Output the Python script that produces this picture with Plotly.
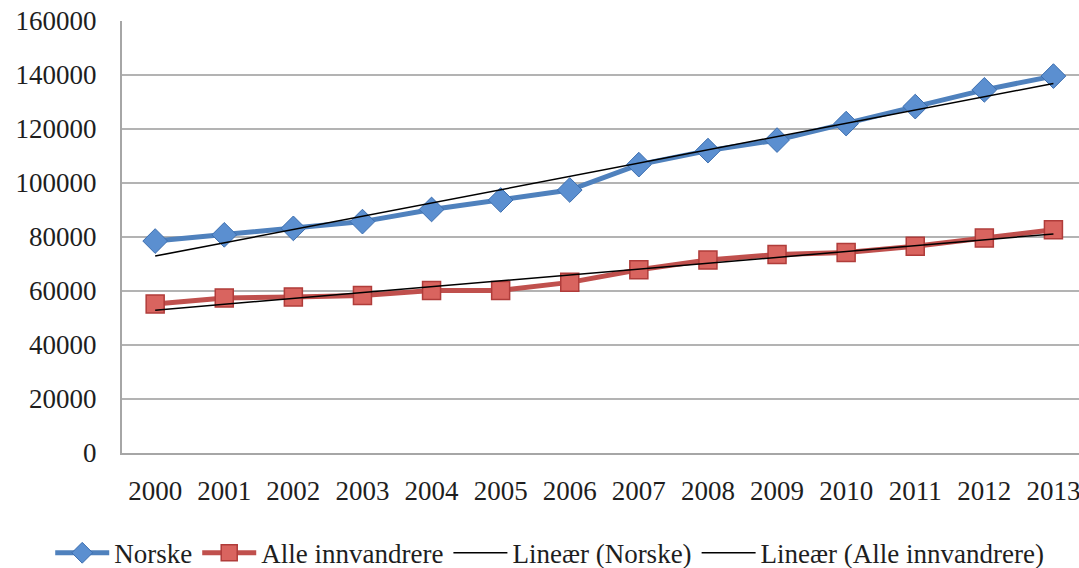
import numpy as np
import plotly.graph_objects as go

years = ["2000", "2001", "2002", "2003", "2004", "2005", "2006",
         "2007", "2008", "2009", "2010", "2011", "2012", "2013"]
norske = [78500, 80800, 83200, 85700, 90200, 93700, 97400,
          106800, 112000, 115900, 122000, 128300, 134500, 139600]
innvandrere = [55200, 57400, 57800, 58300, 60200, 60200, 63200,
               67900, 71500, 73500, 74300, 76600, 79600, 82700]
y_ticks = [0, 20000, 40000, 60000, 80000, 100000, 120000, 140000, 160000]

idx = np.arange(len(years))
fit_n = np.polyval(np.polyfit(idx, norske, 1), idx)
fit_i = np.polyval(np.polyfit(idx, innvandrere, 1), idx)

FONT = "Liberation Serif"
TXT = "#1e1e1e"
BLUE = "#4F81BD"
RED = "#C0504D"

fig = go.Figure()
fig.add_trace(go.Scatter(
    x=years, y=norske, name="Norske", mode="lines+markers",
    line=dict(color=BLUE, width=5),
    marker=dict(symbol="diamond", size=19, color="#5B8FD0",
                line=dict(color="#3C6EAF", width=1)),
))
fig.add_trace(go.Scatter(
    x=years, y=innvandrere, name="Alle innvandrere", mode="lines+markers",
    line=dict(color=RED, width=5),
    marker=dict(symbol="square", size=18, color="#D9645F",
                line=dict(color="#B03C3A", width=1.5)),
))
fig.add_trace(go.Scatter(
    x=years, y=fit_n, name="Lineær (Norske)", mode="lines",
    line=dict(color="black", width=1.5),
))
fig.add_trace(go.Scatter(
    x=years, y=fit_i, name="Lineær (Alle innvandrere)", mode="lines",
    line=dict(color="black", width=1.5),
))

fig.update_layout(
    width=1079, height=568,
    margin=dict(l=122, r=0, t=21, b=115, autoexpand=False),
    paper_bgcolor="white", plot_bgcolor="white",
    font=dict(family=FONT, size=27, color=TXT),
    showlegend=True,
    legend=dict(orientation="h", xref="paper", yref="paper",
                x=-0.075, y=-0.232, xanchor="left", yanchor="middle",
                font=dict(family=FONT, size=27, color=TXT),
                itemwidth=54, tracegroupgap=0, bgcolor="rgba(0,0,0,0)"),
)
fig.update_xaxes(
    type="category", range=[-0.48, 13.37], automargin=False, tickangle=0,
    showgrid=False, showline=True, linecolor="#A6A6A6", linewidth=2,
    ticks="", ticklabelstandoff=13, zeroline=False,
    tickfont=dict(family=FONT, size=27, color=TXT),
)
fig.update_yaxes(
    range=[0, 160000], tickvals=y_ticks, ticktext=[str(v) for v in y_ticks],
    automargin=False,
    showgrid=True, gridcolor="#B3B3B3", gridwidth=2,
    showline=True, linecolor="#A6A6A6", linewidth=2,
    zeroline=False, ticks="", ticklabelstandoff=18,
    tickfont=dict(family=FONT, size=27, color=TXT),
)

fig.write_html("out.html",
               config={"displayModeBar": False},
               post_script="document.body.style.margin='0';")
